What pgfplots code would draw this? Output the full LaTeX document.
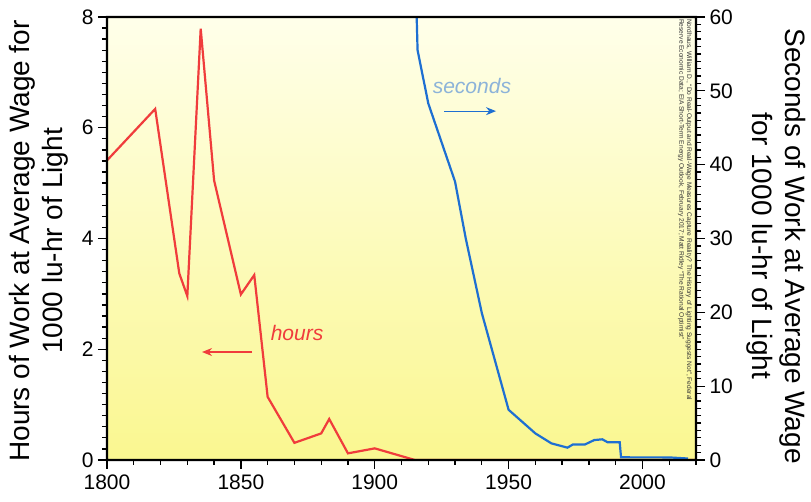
\documentclass[border=0pt]{standalone}
\usepackage{fontspec}
\setmainfont{Liberation Sans}
\usepackage{pgfplots}
\pgfplotsset{compat=1.18}
\usetikzlibrary{arrows.meta}
\definecolor{hred}{HTML}{F03C3C}
\definecolor{sblue}{HTML}{1E6FD2}
\definecolor{slight}{HTML}{8CB3D9}
\definecolor{bgtop}{HTML}{FFFFEA}
\definecolor{bgbot}{HTML}{FAF790}
\definecolor{ink}{RGB}{2,2,2}
\begin{document}
\begin{tikzpicture}
\useasboundingbox (0,0) rectangle (811pt,502pt);
\begin{scope}
\shade[top color=bgtop, bottom color=bgbot] (107pt,42pt) rectangle (696pt,485pt);
\end{scope}
\begin{axis}[
  at={(107pt,42pt)}, anchor=south west, scale only axis,
  width=589pt, height=443pt,
  xmin=1800, xmax=2020, ymin=0, ymax=8,
  xtick={1800,1850,...,2000}, minor x tick num=4,
  ytick={0,2,...,8}, minor y tick num=9,
  xtick pos=bottom, ytick pos=left, tick align=outside,
  tickwidth=9pt, subtickwidth=5pt,
  axis line style={draw=ink, line width=2.2pt},
  major tick style={draw=ink, line width=1.3pt},
  minor tick style={draw=ink, line width=1.3pt},
  tick label style={font=\fontsize{21}{24}\selectfont},
  xticklabel style={yshift=-2pt},
  yticklabel style={xshift=-1pt},
  /pgf/number format/assume math mode=true,
  /pgf/number format/1000 sep={},
]
\addplot[hred, line width=2.2pt] table {
x y
1800 5.41
1818 6.34
1827 3.37
1830 2.96
1835 7.79
1840 5.05
1850 2.99
1855 3.34
1860 1.14
1870 0.31
1880 0.48
1883 0.74
1890 0.12
1900 0.21
1910 0.07
1915 0.0
2020 0.0
};
\node[hred, font=\fontsize{21}{24}\selectfont\itshape] at (axis cs:1871,2.29) {hours};
\draw[hred, line width=1.2pt, -{Stealth[length=10pt,width=8pt]}] (axis cs:1854.2,1.95) -- (axis cs:1835.5,1.95);
\node[slight, font=\fontsize{21}{24}\selectfont\itshape] at (axis cs:1936.3,6.75) {seconds};
\draw[sblue, line width=1.2pt, -{Stealth[length=10pt,width=8pt]}] (axis cs:1925.9,6.30) -- (axis cs:1945.3,6.30);
\end{axis}
\begin{axis}[
  at={(107pt,42pt)}, anchor=south west, scale only axis,
  width=589pt, height=443pt,
  xmin=1800, xmax=2020, ymin=0, ymax=60,
  axis x line=none, axis y line*=right,
  ytick={0,10,...,60}, minor y tick num=9,
  tick align=outside,
  tickwidth=9pt, subtickwidth=5pt,
  axis line style={draw=ink, line width=2.2pt},
  major tick style={draw=ink, line width=1.3pt},
  minor tick style={draw=ink, line width=1.3pt},
  tick label style={font=\fontsize{21}{24}\selectfont},
  yticklabel style={xshift=1pt},
  /pgf/number format/assume math mode=true,
]
\addplot[sblue, line width=2.2pt] table {
x y
1915.3 65
1916 55.5
1920 48.3
1930 37.7
1934 30.0
1940 19.9
1950 6.8
1955 5.2
1960 3.6
1966 2.25
1972 1.67
1974 2.1
1978.5 2.1
1982 2.7
1985 2.8
1987 2.4
1991.5 2.4
1992 0.36
2010 0.35
2017 0.2
};
\end{axis}
% frame and tick marks drawn as filled bars (same positions as the axes' own)
\fill[black, even odd rule] (105.9pt,40.9pt) rectangle (697.1pt,486.1pt)
  (108.1pt,43.1pt) rectangle (694.9pt,483.9pt);
\foreach \i in {0,...,40}{%
  \pgfmathsetmacro\L{mod(\i,10)==0?9:5}%
  \pgfmathsetmacro\xa{107-\L}%
  \pgfmathsetmacro\ya{42+\i*11.075-0.65}%
  \pgfmathsetmacro\yb{42+\i*11.075+0.65}%
  \fill[black] (\xa pt,\ya pt) rectangle (107pt,\yb pt);}
\foreach \i in {0,...,60}{%
  \pgfmathsetmacro\L{mod(\i,10)==0?9:5}%
  \pgfmathsetmacro\xa{696+\L}%
  \pgfmathsetmacro\ya{42+\i*7.38333-0.65}%
  \pgfmathsetmacro\yb{42+\i*7.38333+0.65}%
  \fill[black] (696pt,\ya pt) rectangle (\xa pt,\yb pt);}
\foreach \i in {0,...,22}{%
  \pgfmathsetmacro\L{mod(\i,5)==0?9:5}%
  \pgfmathsetmacro\ya{42-\L}%
  \pgfmathsetmacro\xa{107+\i*26.77273-0.65}%
  \pgfmathsetmacro\xb{107+\i*26.77273+0.65}%
  \fill[black] (\xa pt,\ya pt) rectangle (\xb pt,42pt);}
\node[rotate=90, align=center, font=\fontsize{28}{33}\selectfont] at (39pt,261pt) {Hours of Work at Average Wage for\\1000 lu-hr of Light};
\node[rotate=-90, align=center, font=\fontsize{28}{33}\selectfont] at (776pt,256pt) {Seconds of Work at Average Wage\\for 1000 lu-hr of Light};
\node[rotate=-90, anchor=north west, align=left, inner sep=0pt, text=black!80, font=\fontsize{6.6}{7.6}\selectfont] at (692pt,483pt) {Nordhaus, William D., ``Do Real-Output and Real-Wage Measures Capture Reality? The History of Lighting Suggests Not'', Federal\\Reserve Economic Data; EIA Short-Term Energy Outlook, February 2017; Matt Ridley ``The Rational Optimist''};
\end{tikzpicture}
\end{document}
